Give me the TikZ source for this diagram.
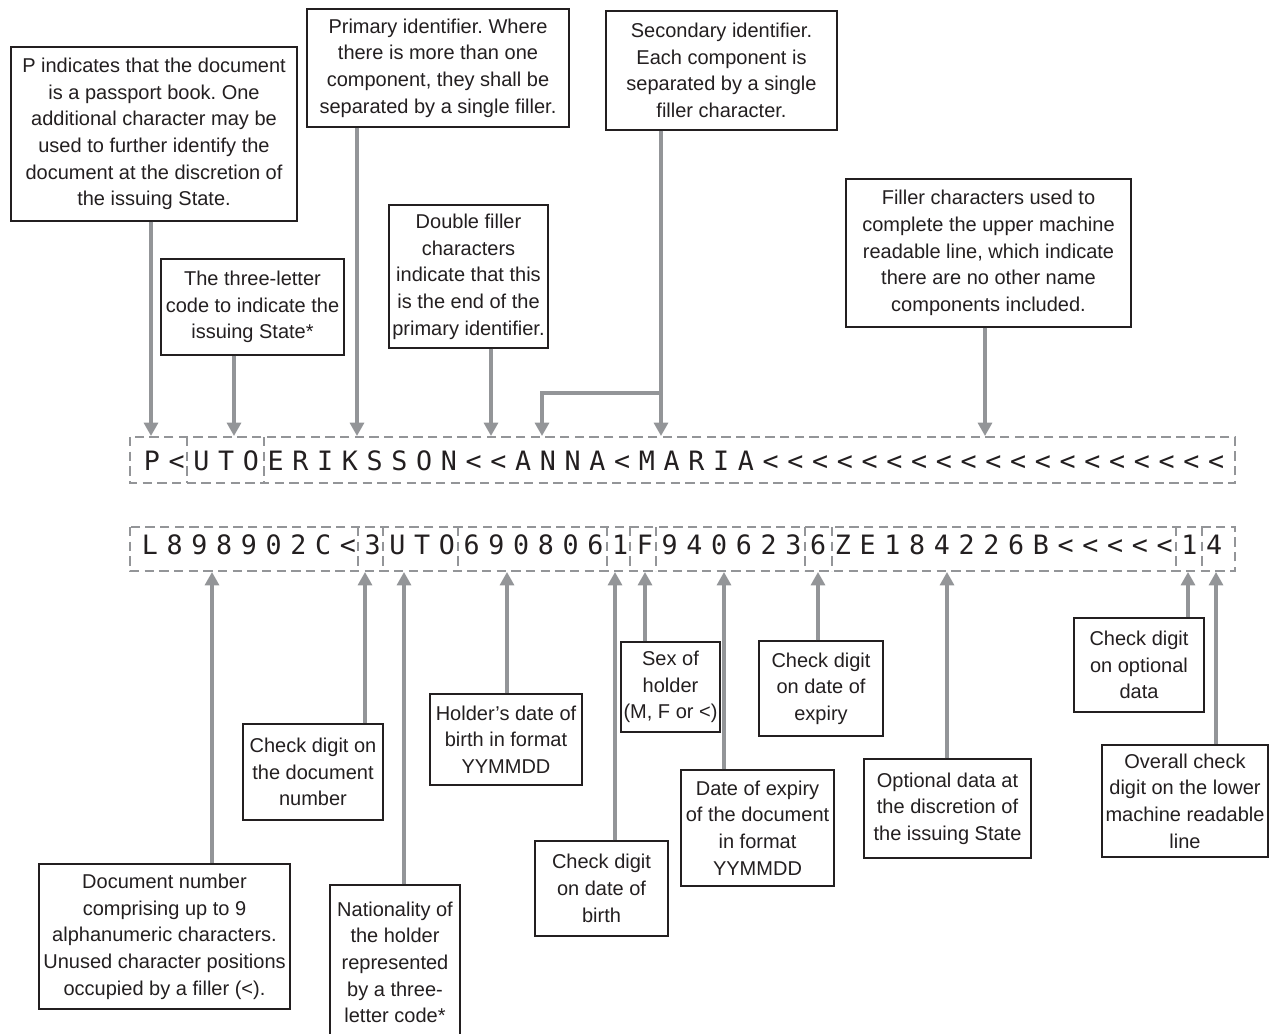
\documentclass[tikz,border=0pt]{standalone}
\usepackage{fontspec}
\setmainfont{Liberation Sans}
\newfontfamily\mrzfont{DejaVu Sans Mono}
\usetikzlibrary{arrows.meta}
\definecolor{LeaderGrey}{HTML}{939598}
\definecolor{InkBlack}{HTML}{231F20}
\frenchspacing

\begin{document}
\begin{tikzpicture}[x=0.75pt,y=-0.75pt,
    note/.style={draw=InkBlack,line width=0.9pt,fill=white,align=center,
      inner sep=0pt,text=InkBlack,font=\fontsize{15}{20}\selectfont},
    zone/.style={draw=LeaderGrey,line width=1.5pt,dash pattern=on 7pt off 4pt},
    glyph/.style={anchor=base,inner sep=0pt,text=InkBlack,
      font=\mrzfont\fontsize{20}{22}\selectfont},
    lead/.style={-{Triangle[length=10pt,width=10.5pt]},line width=2.3pt,
      color=LeaderGrey}
  ]
    \useasboundingbox (0,0) rectangle (1272,1034);

    % upper machine readable line
    \draw[zone] (130,437) rectangle (1235,483);
    \foreach \x in {187,264}
      \draw[zone] (\x,437) -- (\x,483);
    \foreach \ch [count=\i from 0] in {P,<,U,T,O,E,R,I,K,S,S,O,N,<,<,A,N,N,A,<,
        M,A,R,I,A,<,<,<,<,<,<,<,<,<,<,<,<,<,<,<,<,<,<,<}
      \node[glyph] (u\i) at ({152+24.75*\i},470) {\ch};

    % lower machine readable line
    \draw[zone] (130,527) rectangle (1235,571);
    \foreach \x in {358,383,458,607,630,656,805,832,1176,1202}
      \draw[zone] (\x,527) -- (\x,571);
    \foreach \ch [count=\i from 0] in {L,8,9,8,9,0,2,C,<,3,U,T,O,6,9,0,8,0,6,1,
        F,9,4,0,6,2,3,6,Z,E,1,8,4,2,2,6,B,<,<,<,<,<,1,4}
      \node[glyph] (l\i) at ({150+24.75*\i},554) {\ch};

    % arrow targets
    \coordinate (tType) at (151,436);
    \coordinate (tState) at (234,436);
    \coordinate (tPrim) at (357,436);
    \coordinate (tDouble) at (491,436);
    \coordinate (tAnna) at (542,436);
    \coordinate (tMaria) at (661,436);
    \coordinate (split) at (661,393);
    \coordinate (tFill) at (985,436);
    \coordinate (tDoc) at (212,572);
    \coordinate (tChkDoc) at (365,572);
    \coordinate (tNat) at (404,572);
    \coordinate (tDob) at (507,572);
    \coordinate (tChkDob) at (615,572);
    \coordinate (tSex) at (645,572);
    \coordinate (tExp) at (724,572);
    \coordinate (tChkExp) at (818,572);
    \coordinate (tOpt) at (947,572);
    \coordinate (tChkOpt) at (1188,572);
    \coordinate (tOverall) at (1216,572);

    % notes above
    \node[note,minimum width=214.5pt,minimum height=130.5pt] (typenote) at (154,134)
      {P indicates that the document\\is a passport book. One\\additional character may be\\
       used to further identify the\\document at the discretion of\\the issuing State.};
    \node[note,minimum width=196.5pt,minimum height=88.5pt] (primnote) at (438,68)
      {Primary identifier. Where\\there is more than one\\component, they shall be\\
       separated by a single filler.};
    \node[note,minimum width=173.25pt,minimum height=89.25pt] (secnote) at (721.5,70.5)
      {Secondary identifier.\\Each component is\\separated by a single\\filler character.};
    \node[note,minimum width=137.25pt,minimum height=72pt] (statenote) at (252.5,307)
      {The three-letter\\code to indicate the\\issuing State*};
    \node[note,minimum width=119.25pt,minimum height=107.25pt] (doublenote) at (468.5,276.5)
      {Double filler\\characters\\indicate that this\\is the end of the\\primary identifier.};
    \node[note,minimum width=213.75pt,minimum height=111pt] (fillnote) at (988.5,253)
      {Filler characters used to\\complete the upper machine\\readable line, which indicate\\
       there are no other name\\components included.};

    % notes below
    \node[note,minimum width=188.25pt,minimum height=108.75pt] (docnote) at (164.5,936.5)
      {Document number\\comprising up to 9\\alphanumeric characters.\\
       Unused character positions\\occupied by a filler (<).};
    \node[note,minimum width=105pt,minimum height=72pt] (chkdocnote) at (313,772)
      {Check digit on\\the document\\number};
    \node[note,minimum width=97.5pt,minimum height=116.25pt] (natnote) at (395,962.5)
      {Nationality of\\the holder\\represented\\by a three-\\letter code*};
    \node[note,minimum width=114pt,minimum height=68.25pt] (dobnote) at (506,739.5)
      {Holder’s date of\\birth in format\\YYMMDD};
    \node[note,minimum width=99.75pt,minimum height=71.25pt] (chkdobnote) at (601.5,888.5)
      {Check digit\\on date of\\birth};
    \node[note,minimum width=74.25pt,minimum height=67.5pt] (sexnote) at (670.5,687)
      {Sex of\\holder\\(M, F or <)};
    \node[note,minimum width=114.75pt,minimum height=87pt] (expnote) at (757.5,828)
      {Date of expiry\\of the document\\in format\\YYMMDD};
    \node[note,minimum width=93pt,minimum height=71.25pt] (chkexpnote) at (821,688.5)
      {Check digit\\on date of\\expiry};
    \node[note,minimum width=125.25pt,minimum height=74.25pt] (optnote) at (947.5,808.5)
      {Optional data at\\the discretion of\\the issuing State};
    \node[note,minimum width=97.5pt,minimum height=70.5pt] (chkoptnote) at (1139,665)
      {Check digit\\on optional\\data};
    \node[note,minimum width=124.5pt,minimum height=84pt] (allnote) at (1185,801)
      {Overall check\\digit on the lower\\machine readable\\line};

    % leaders
    \draw[lead] (typenote.south -| tType) -- (tType);
    \draw[lead] (statenote.south -| tState) -- (tState);
    \draw[lead] (primnote.south -| tPrim) -- (tPrim);
    \draw[lead] (doublenote.south -| tDouble) -- (tDouble);
    \draw[lead] (secnote.south -| tMaria) -- (tMaria);
    \draw[lead] (split) -| (tAnna);
    \draw[lead] (fillnote.south -| tFill) -- (tFill);
    \draw[lead] (docnote.north -| tDoc) -- (tDoc);
    \draw[lead] (chkdocnote.north -| tChkDoc) -- (tChkDoc);
    \draw[lead] (natnote.north -| tNat) -- (tNat);
    \draw[lead] (dobnote.north -| tDob) -- (tDob);
    \draw[lead] (chkdobnote.north -| tChkDob) -- (tChkDob);
    \draw[lead] (sexnote.north -| tSex) -- (tSex);
    \draw[lead] (expnote.north -| tExp) -- (tExp);
    \draw[lead] (chkexpnote.north -| tChkExp) -- (tChkExp);
    \draw[lead] (optnote.north -| tOpt) -- (tOpt);
    \draw[lead] (chkoptnote.north -| tChkOpt) -- (tChkOpt);
    \draw[lead] (allnote.north -| tOverall) -- (tOverall);
  \end{tikzpicture}
\end{document}
